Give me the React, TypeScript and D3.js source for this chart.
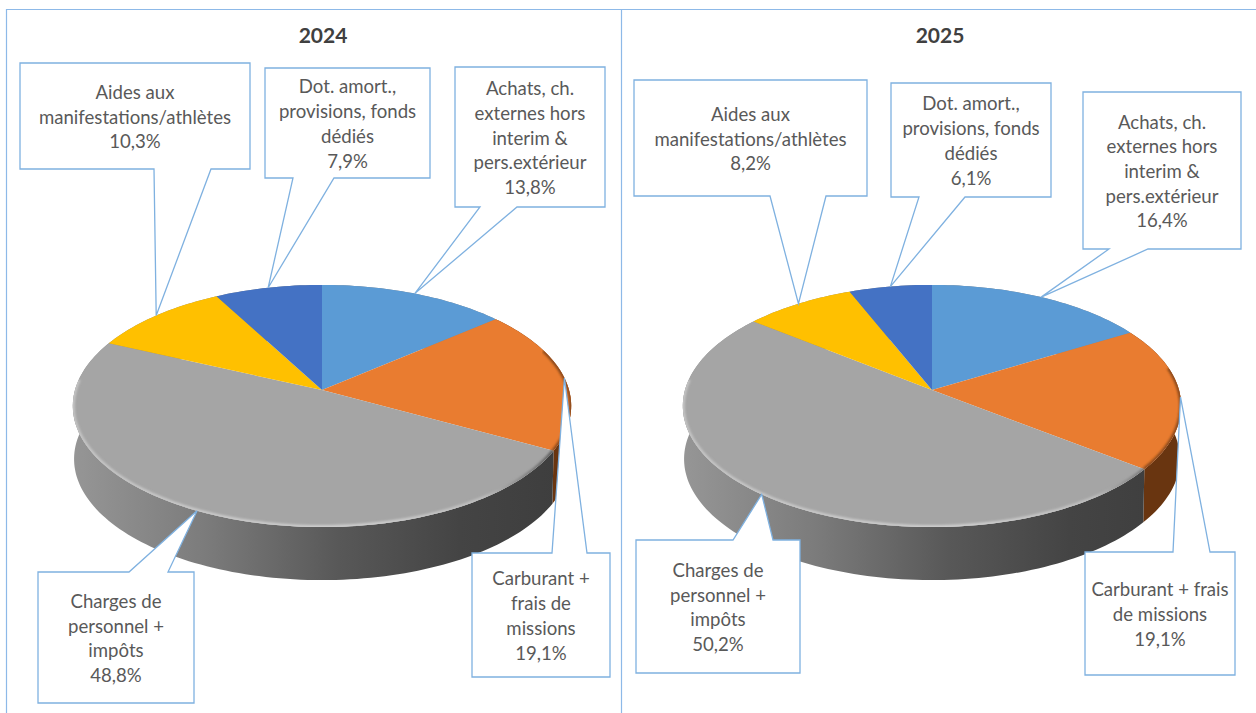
import * as d3 from "d3";

const years = ["2024", "2025"];
const colors = ["#5B9BD5", "#E97C30", "#A5A5A5", "#FFC000", "#4472C4"];
const values2024 = [13.8, 19.1, 48.8, 10.3, 7.9];
const values2025 = [16.4, 19.1, 50.2, 8.2, 6.1];

const labels2024 = [
  ["Achats, ch.", "externes hors", "interim &", "pers.extérieur"],
  ["Carburant +", "frais de", "missions"],
  ["Charges de", "personnel +", "impôts"],
  ["Aides aux", "manifestations/athlètes"],
  ["Dot. amort.,", "provisions, fonds", "dédiés"],
];
const labels2025 = [
  ["Achats, ch.", "externes hors", "interim &", "pers.extérieur"],
  ["Carburant + frais", "de missions"],
  ["Charges de", "personnel +", "impôts"],
  ["Aides aux", "manifestations/athlètes"],
  ["Dot. amort.,", "provisions, fonds", "dédiés"],
];

// callout layout: x0, y0, x1, y1, tail base a, tail base b
const boxes2024 = [
  [455, 67, 605, 207, 480, 517],
  [472, 553, 610, 677, 552, 587],
  [38, 572, 194, 703, 129, 168],
  [20, 63, 250, 169, 154, 211],
  [265, 68, 430, 178, 293, 334],
];
const boxes2025 = [
  [1083, 92, 1241, 249, 1109, 1148],
  [1085, 552, 1235, 675, 1173, 1210],
  [636, 540, 800, 673, 733, 773],
  [634, 80, 867, 196, 770, 826],
  [891, 83, 1051, 197, 919, 965],
];

const WIDTH = 1256;
const HEIGHT = 713;
const BORDER = "#8DB9E8";
const CALLOUT = "#7FB1E0";
const TEXT = "#595959";
const FONT = "Lato, Carlito, Calibri, sans-serif";
const PIE_Y = 390;
const RX = 247; // perspective circle, see project()
const RY = 119;
const TILT = 0.132;
const DEPTH = 53;
const RIM_END = 4.8; // the light bevel stops near the left extreme of the pie

// perspective projection of a rim point, theta clockwise from the top
function project(cx: number, theta: number, depth = 0): [number, number] {
  const u = Math.sin(theta);
  const v = -Math.cos(theta);
  const w = 1 - TILT * v;
  const shrink = depth > 0 ? 0.995 : 1;
  return [cx + (RX * shrink * u) / w, PIE_Y + depth + (RY * v) / w];
}

function arcPoints(cx: number, a0: number, a1: number, depth = 0) {
  const n = Math.max(2, Math.ceil((a1 - a0) * 40));
  return d3.range(n + 1).map((i) => project(cx, a0 + ((a1 - a0) * i) / n, depth));
}

const line = d3.line();

function Pie3D({ index, cx, titleX, year, values, labels, boxes }: any) {
  const arcs = d3.pie<number>().sort(null)(values);
  const id = `p${index}`;
  const fullRim = arcPoints(cx, 0, Math.PI * 2);
  return (
    <g>
      <defs>
        <linearGradient id={`${id}-wall`} gradientUnits="userSpaceOnUse" x1={cx - 250} x2={cx + 235} y1="0" y2="0">
          <stop offset="0" stopColor="#969696" />
          <stop offset="0.27" stopColor="#7C7C7C" />
          <stop offset="0.55" stopColor="#585858" />
          <stop offset="0.8" stopColor="#444444" />
          <stop offset="1" stopColor="#3E3E3E" />
        </linearGradient>
        <linearGradient id={`${id}-rim`} gradientUnits="userSpaceOnUse" x1={cx - 250} x2={cx + 235} y1="0" y2="0">
          <stop offset="0" stopColor="#C4C4C4" />
          <stop offset="0.6" stopColor="#CFCFCF" />
          <stop offset="0.85" stopColor="#BEBEBE" />
          <stop offset="1" stopColor="#555555" />
        </linearGradient>
        <clipPath id={`${id}-top`}>
          <path d={line(fullRim) + "Z"} />
        </clipPath>
      </defs>

      {/* walls first, the top face hides the back ones */}
      {arcs.map((a, i) => {
        const top = arcPoints(cx, a.startAngle, a.endAngle);
        const bottom = arcPoints(cx, a.startAngle, a.endAngle, DEPTH).reverse();
        const fill = i === 2 ? `url(#${id}-wall)` : i === 1 ? "#693510" : "#888";
        return <path key={i} d={line([...top, ...bottom]) + "Z"} fill={fill} />;
      })}

      {arcs.map((a, i) => {
        const pts = [[cx, PIE_Y] as [number, number], ...arcPoints(cx, a.startAngle, a.endAngle)];
        return <path key={i} d={line(pts) + "Z"} fill={colors[i]} />;
      })}

      {/* bevel along the front edge */}
      <g clipPath={`url(#${id}-top)`}>
        <path
          d={line(arcPoints(cx, arcs[2].startAngle, RIM_END)) as string}
          fill="none"
          stroke={`url(#${id}-rim)`}
          strokeWidth={4}
          filter="url(#soft)"
        />
        <path
          d={line(arcPoints(cx, arcs[1].startAngle + 0.35, arcs[1].endAngle)) as string}
          fill="none"
          stroke="#8A4A1C"
          strokeWidth={4}
          filter="url(#soft)"
        />
      </g>

      <text x={titleX} y={43} textAnchor="middle" fontFamily={FONT} fontSize={21} fontWeight={700} fill="#404040">
        {year}
      </text>

      {arcs.map((a, i) => {
        const [x0, y0, x1, y1, ta, tb] = boxes[i];
        const tip = project(cx, (a.startAngle + a.endAngle) / 2);
        const above = tip[1] < y0; // tail leaves the top edge, else the bottom edge
        const outline: [number, number][] = above
          ? [[x0, y0], [ta, y0], tip, [tb, y0], [x1, y0], [x1, y1], [x0, y1]]
          : [[x0, y0], [x1, y0], [x1, y1], [tb, y1], tip, [ta, y1], [x0, y1]];
        const rows = [...labels[i], `${values[i].toFixed(1).replace(".", ",")}%`];
        const lineH = 24.7;
        const midY = (y0 + y1) / 2;
        return (
          <g key={i}>
            <path d={line(outline) + "Z"} fill="#fff" stroke={CALLOUT} strokeWidth={1.3} />
            <text textAnchor="middle" fontFamily={FONT} fontSize={18.6} fill={TEXT}>
              {rows.map((r: string, j: number) => (
                <tspan key={j} x={(x0 + x1) / 2} y={midY + (j - (rows.length - 1) / 2) * lineH + 7.5}>
                  {r}
                </tspan>
              ))}
            </text>
          </g>
        );
      })}
    </g>
  );
}

export default function App() {
  return (
    <svg
      width={WIDTH}
      height={HEIGHT}
      viewBox={`0 0 ${WIDTH} ${HEIGHT}`}
      style={{ position: "fixed", left: 0, top: 0, background: "#fff" }}
    >
      <defs>
        <filter id="soft" x="-5%" y="-5%" width="110%" height="110%">
          <feGaussianBlur stdDeviation="1.2" />
        </filter>
      </defs>
      <path
        d={`M6.5 ${HEIGHT}V9.5H${WIDTH}M621.5 9.5V${HEIGHT}`}
        fill="none"
        stroke={BORDER}
        strokeWidth={1.2}
      />
      <Pie3D index={0} cx={322} titleX={323} year={years[0]} values={values2024} labels={labels2024} boxes={boxes2024} />
      <Pie3D index={1} cx={932} titleX={940} year={years[1]} values={values2025} labels={labels2025} boxes={boxes2025} />
    </svg>
  );
}
